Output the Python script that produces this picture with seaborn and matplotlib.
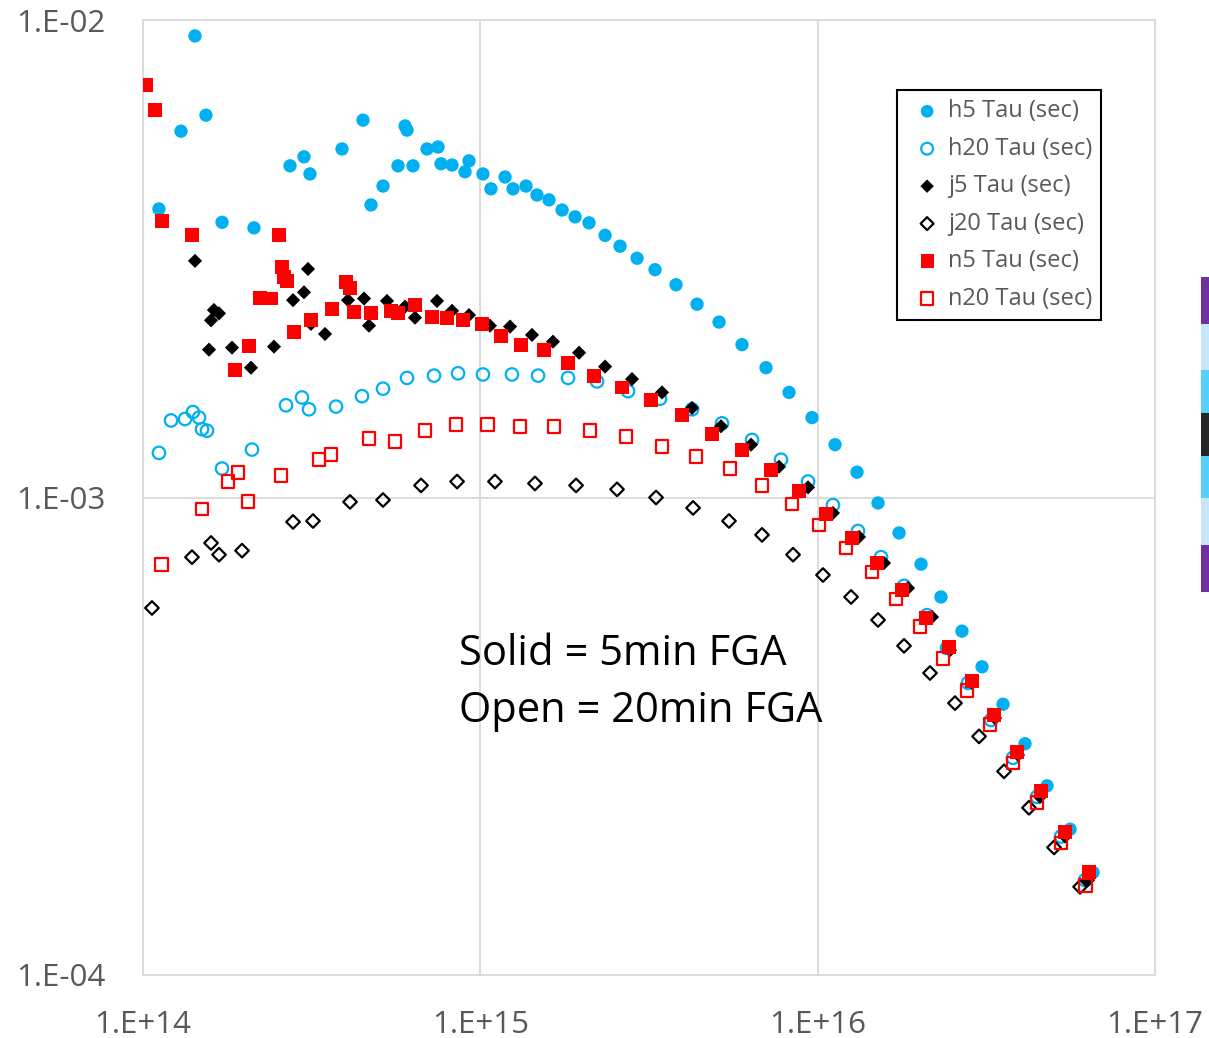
import matplotlib
matplotlib.use("Agg")
import matplotlib.pyplot as plt
from matplotlib.patches import Rectangle
import seaborn as sns

# ---- data: carrier density (x) vs. lifetime Tau in seconds (y) ----
h5_x = [1.115e14, 1.296e14, 1.426e14, 1.537e14, 1.715e14, 2.133e14, 2.728e14, 3.001e14,
        3.126e14, 3.890e14, 4.490e14, 4.741e14, 5.146e14, 5.701e14, 5.981e14, 6.063e14,
        6.316e14, 6.950e14, 7.492e14, 7.647e14, 8.244e14, 9.008e14, 9.256e14, 1.018e15,
        1.075e15, 1.184e15, 1.250e15, 1.366e15, 1.472e15, 1.598e15, 1.747e15, 1.909e15,
        2.100e15, 2.343e15, 2.595e15, 2.915e15, 3.295e15, 3.803e15, 4.390e15, 5.101e15,
        5.967e15, 7.028e15, 8.225e15, 9.622e15, 1.126e16, 1.308e16, 1.510e16, 1.743e16,
        2.025e16, 2.320e16, 2.678e16, 3.071e16, 3.544e16, 4.118e16, 4.786e16, 5.600e16,
        6.553e16]
h5_y = [4.02e-3, 5.85e-3, 9.26e-3, 6.32e-3, 3.77e-3, 3.67e-3, 4.95e-3, 5.17e-3,
        4.76e-3, 5.37e-3, 6.17e-3, 4.10e-3, 4.49e-3, 4.95e-3, 6.00e-3, 5.88e-3,
        4.95e-3, 5.37e-3, 5.42e-3, 5.00e-3, 4.97e-3, 4.81e-3, 5.07e-3, 4.76e-3,
        4.43e-3, 4.69e-3, 4.43e-3, 4.49e-3, 4.30e-3, 4.20e-3, 4.00e-3, 3.87e-3,
        3.76e-3, 3.54e-3, 3.36e-3, 3.17e-3, 3.00e-3, 2.79e-3, 2.54e-3, 2.33e-3,
        2.09e-3, 1.87e-3, 1.66e-3, 1.47e-3, 1.29e-3, 1.13e-3, 0.974e-3, 0.843e-3,
        0.725e-3, 0.619e-3, 0.525e-3, 0.442e-3, 0.369e-3, 0.305e-3, 0.249e-3, 0.202e-3,
        0.164e-3]

h20_x = [1.115e14, 1.211e14, 1.332e14, 1.406e14, 1.466e14, 1.496e14, 1.548e14, 1.715e14,
         2.104e14, 2.654e14, 2.960e14, 3.105e14, 3.734e14, 4.459e14, 5.146e14, 6.063e14,
         7.291e14, 8.589e14, 1.018e15, 1.241e15, 1.483e15, 1.820e15, 2.218e15, 2.741e15,
         3.409e15, 4.242e15, 5.206e15, 6.389e15, 7.786e15, 9.363e15, 1.110e16, 1.317e16,
         1.541e16, 1.803e16, 2.109e16, 2.417e16, 2.791e16, 3.265e16, 3.794e16, 4.468e16,
         5.265e16, 6.205e16]
h20_y = [1.24e-3, 1.45e-3, 1.46e-3, 1.51e-3, 1.47e-3, 1.39e-3, 1.38e-3, 1.15e-3,
         1.26e-3, 1.56e-3, 1.62e-3, 1.53e-3, 1.55e-3, 1.63e-3, 1.69e-3, 1.78e-3,
         1.80e-3, 1.82e-3, 1.81e-3, 1.81e-3, 1.80e-3, 1.78e-3, 1.75e-3, 1.67e-3,
         1.61e-3, 1.53e-3, 1.43e-3, 1.32e-3, 1.20e-3, 1.08e-3, 0.964e-3, 0.851e-3,
         0.750e-3, 0.653e-3, 0.567e-3, 0.484e-3, 0.409e-3, 0.342e-3, 0.285e-3, 0.236e-3,
         0.195e-3, 0.158e-3]

j5_x = [1.426e14, 1.623e14, 1.680e14, 1.591e14, 1.569e14, 1.836e14, 2.090e14, 2.445e14,
        2.785e14, 3.001e14, 3.084e14, 3.148e14, 3.464e14, 4.053e14, 4.521e14, 4.677e14,
        5.288e14, 5.981e14, 6.402e14, 7.441e14, 8.244e14, 9.256e14, 1.068e15, 1.225e15,
        1.423e15, 1.642e15, 1.962e15, 2.343e15, 2.816e15, 3.456e15, 4.242e15, 5.170e15,
        6.345e15, 7.681e15, 9.363e15, 1.110e16, 1.326e16, 1.573e16, 1.853e16, 2.183e16,
        2.467e16, 2.868e16, 3.356e16, 3.926e16, 4.561e16, 5.411e16, 6.333e16]
j5_y = [3.13e-3, 2.47e-3, 2.43e-3, 2.35e-3, 2.04e-3, 2.06e-3, 1.87e-3, 2.07e-3,
        2.59e-3, 2.69e-3, 3.01e-3, 2.31e-3, 2.20e-3, 2.59e-3, 2.61e-3, 2.29e-3,
        2.58e-3, 2.51e-3, 2.38e-3, 2.58e-3, 2.46e-3, 2.41e-3, 2.29e-3, 2.28e-3,
        2.19e-3, 2.12e-3, 2.01e-3, 1.88e-3, 1.77e-3, 1.66e-3, 1.54e-3, 1.41e-3,
        1.29e-3, 1.16e-3, 1.05e-3, 0.928e-3, 0.827e-3, 0.729e-3, 0.646e-3, 0.562e-3,
        0.479e-3, 0.409e-3, 0.345e-3, 0.289e-3, 0.236e-3, 0.195e-3, 0.158e-3]

j20_x = [1.063e14, 1.397e14, 1.591e14, 1.680e14, 1.966e14, 2.785e14, 3.191e14, 4.109e14,
         5.146e14, 6.671e14, 8.531e14, 1.105e15, 1.452e15, 1.922e15, 2.542e15, 3.318e15,
         4.272e15, 5.459e15, 6.839e15, 8.453e15, 1.037e16, 1.256e16, 1.510e16, 1.803e16,
         2.153e16, 2.553e16, 3.009e16, 3.568e16, 4.231e16, 5.020e16, 5.997e16]
j20_y = [0.587e-3, 0.750e-3, 0.803e-3, 0.759e-3, 0.774e-3, 0.889e-3, 0.893e-3, 0.979e-3,
         0.988e-3, 1.06e-3, 1.08e-3, 1.08e-3, 1.07e-3, 1.06e-3, 1.04e-3, 1.00e-3,
         0.951e-3, 0.893e-3, 0.835e-3, 0.759e-3, 0.688e-3, 0.619e-3, 0.554e-3, 0.489e-3,
         0.429e-3, 0.371e-3, 0.316e-3, 0.267e-3, 0.224e-3, 0.185e-3, 0.153e-3]

n5_x = [1.020e14, 1.085e14, 1.138e14, 1.397e14, 2.530e14, 2.582e14, 2.618e14, 2.672e14,
        2.223e14, 2.395e14, 2.062e14, 1.874e14, 2.804e14, 3.148e14, 3.634e14, 3.998e14,
        4.109e14, 4.222e14, 4.741e14, 5.436e14, 5.701e14, 6.402e14, 7.191e14, 7.967e14,
        8.888e14, 1.012e15, 1.152e15, 1.320e15, 1.544e15, 1.820e15, 2.173e15, 2.630e15,
        3.206e15, 3.962e15, 4.864e15, 5.967e15, 7.273e15, 8.806e15, 1.058e16, 1.264e16,
        1.499e16, 1.778e16, 2.095e16, 2.451e16, 2.868e16, 3.333e16, 3.899e16, 4.592e16,
        5.411e16, 6.377e16]
n5_y = [7.31e-3, 6.48e-3, 3.79e-3, 3.54e-3, 3.55e-3, 3.04e-3, 2.90e-3, 2.84e-3,
        2.62e-3, 2.61e-3, 2.08e-3, 1.85e-3, 2.22e-3, 2.35e-3, 2.48e-3, 2.83e-3,
        2.75e-3, 2.45e-3, 2.43e-3, 2.46e-3, 2.43e-3, 2.53e-3, 2.39e-3, 2.38e-3,
        2.35e-3, 2.31e-3, 2.18e-3, 2.09e-3, 2.04e-3, 1.91e-3, 1.80e-3, 1.70e-3,
        1.60e-3, 1.49e-3, 1.36e-3, 1.26e-3, 1.14e-3, 1.03e-3, 0.924e-3, 0.823e-3,
        0.729e-3, 0.640e-3, 0.559e-3, 0.486e-3, 0.413e-3, 0.350e-3, 0.293e-3, 0.243e-3,
        0.199e-3, 0.164e-3]

n20_x = [1.138e14, 1.496e14, 1.786e14, 1.912e14, 2.048e14, 2.565e14, 3.325e14, 3.609e14,
         4.677e14, 5.585e14, 6.855e14, 8.473e14, 1.047e15, 1.311e15, 1.654e15, 2.114e15,
         2.703e15, 3.456e15, 4.360e15, 5.496e15, 6.839e15, 8.395e15, 1.009e16, 1.213e16,
         1.449e16, 1.707e16, 2.011e16, 2.352e16, 2.772e16, 3.243e16, 3.794e16, 4.468e16,
         5.265e16, 6.205e16]
n20_y = [0.725e-3, 0.946e-3, 1.08e-3, 1.13e-3, 0.979e-3, 1.11e-3, 1.20e-3, 1.23e-3,
         1.33e-3, 1.31e-3, 1.38e-3, 1.42e-3, 1.42e-3, 1.41e-3, 1.41e-3, 1.38e-3,
         1.34e-3, 1.28e-3, 1.22e-3, 1.15e-3, 1.06e-3, 0.969e-3, 0.876e-3, 0.784e-3,
         0.698e-3, 0.613e-3, 0.536e-3, 0.461e-3, 0.395e-3, 0.334e-3, 0.278e-3, 0.230e-3,
         0.189e-3, 0.154e-3]

series_labels = ["h5 Tau (sec)", "h20 Tau (sec)", "j5 Tau (sec)",
                 "j20 Tau (sec)", "n5 Tau (sec)", "n20 Tau (sec)"]
x_tick_labels = ["1.E+14", "1.E+15", "1.E+16", "1.E+17"]
y_tick_labels = ["1.E-04", "1.E-03", "1.E-02"]

BLUE = "#00B0F0"
RED = "#FF0000"
BLACK = "#000000"
GRID = "#D9D9D9"
LABEL = "#595959"

sns.set_theme(style="white")
plt.rcParams["font.family"] = ["Open Sans", "DejaVu Sans"]

fig = plt.figure(figsize=(12.09, 10.38), dpi=100)
ax = fig.add_axes([143 / 1209, 1 - 975 / 1038, 1012 / 1209, 955 / 1038])
ax.set_xscale("log")
ax.set_yscale("log")

# (x, y, marker, size, face, edge, linewidth)
styles = [
    (h5_x, h5_y, "o", 92, BLUE, "none", 0),
    (h20_x, h20_y, "o", 80, "none", BLUE, 1.6),
    (j5_x, j5_y, "D", 52, BLACK, "none", 0),
    (j20_x, j20_y, "D", 48, "none", BLACK, 1.6),
    (n5_x, n5_y, "s", 100, RED, "none", 0),
    (n20_x, n20_y, "s", 86, "none", RED, 1.6),
]
for (xs, ys, mk, sz, fc, ec, lw), lab in zip(styles, series_labels):
    sns.scatterplot(x=xs, y=ys, ax=ax, marker=mk, s=sz, facecolor=fc,
                    edgecolor=ec, linewidth=lw, label=lab, zorder=3)

ax.set_xlim(1e14, 1e17)
ax.set_ylim(1e-4, 1e-2)
ax.set_xticks([1e14, 1e15, 1e16, 1e17])
ax.set_xticklabels(x_tick_labels)
ax.set_yticks([1e-4, 1e-3, 1e-2])
ax.set_yticklabels(y_tick_labels)
ax.minorticks_off()
ax.tick_params(axis="both", length=0, labelsize=22.5, labelcolor=LABEL)
ax.tick_params(axis="y", pad=27)
ax.tick_params(axis="x", pad=25)
ax.grid(True, which="major", color=GRID, linewidth=1.3)
ax.set_axisbelow(True)
for sp in ax.spines.values():
    sp.set_color(GRID)
    sp.set_linewidth(1.3)

handles, labels = ax.get_legend_handles_labels()
leg = ax.legend(handles, labels, loc="upper left",
                bbox_to_anchor=((897 - 143) / 1012, (975 - 90) / 955),
                frameon=True, fancybox=False, framealpha=1, edgecolor="black",
                fontsize=17, labelspacing=0.57, handletextpad=0.0,
                handlelength=1.75, borderpad=0.4, borderaxespad=0,
                markerscale=0.95, labelcolor=LABEL)
leg.get_frame().set_linewidth(1.5)

ax.text((459 - 143) / 1012, (975 - 665) / 955, "Solid = 5min FGA",
        transform=ax.transAxes, fontsize=30, color="black", va="baseline", ha="left")
ax.text((459 - 143) / 1012, (975 - 722) / 955, "Open = 20min FGA",
        transform=ax.transAxes, fontsize=30, color="black", va="baseline", ha="left")

# coloured strip along the right edge of the figure
strip = [(277, 324, "#7030A0"), (324, 370, "#C5E6FB"), (370, 413, "#57D0FB"),
         (413, 456, "#262626"), (456, 498, "#57D0FB"), (498, 545, "#C5E6FB"),
         (545, 592, "#7030A0")]
for top, bot, col in strip:
    fig.add_artist(Rectangle((1201 / 1209, 1 - bot / 1038), 8 / 1209, (bot - top) / 1038,
                             transform=fig.transFigure, facecolor=col, edgecolor="none"))

fig.savefig("out.png", dpi=100)
